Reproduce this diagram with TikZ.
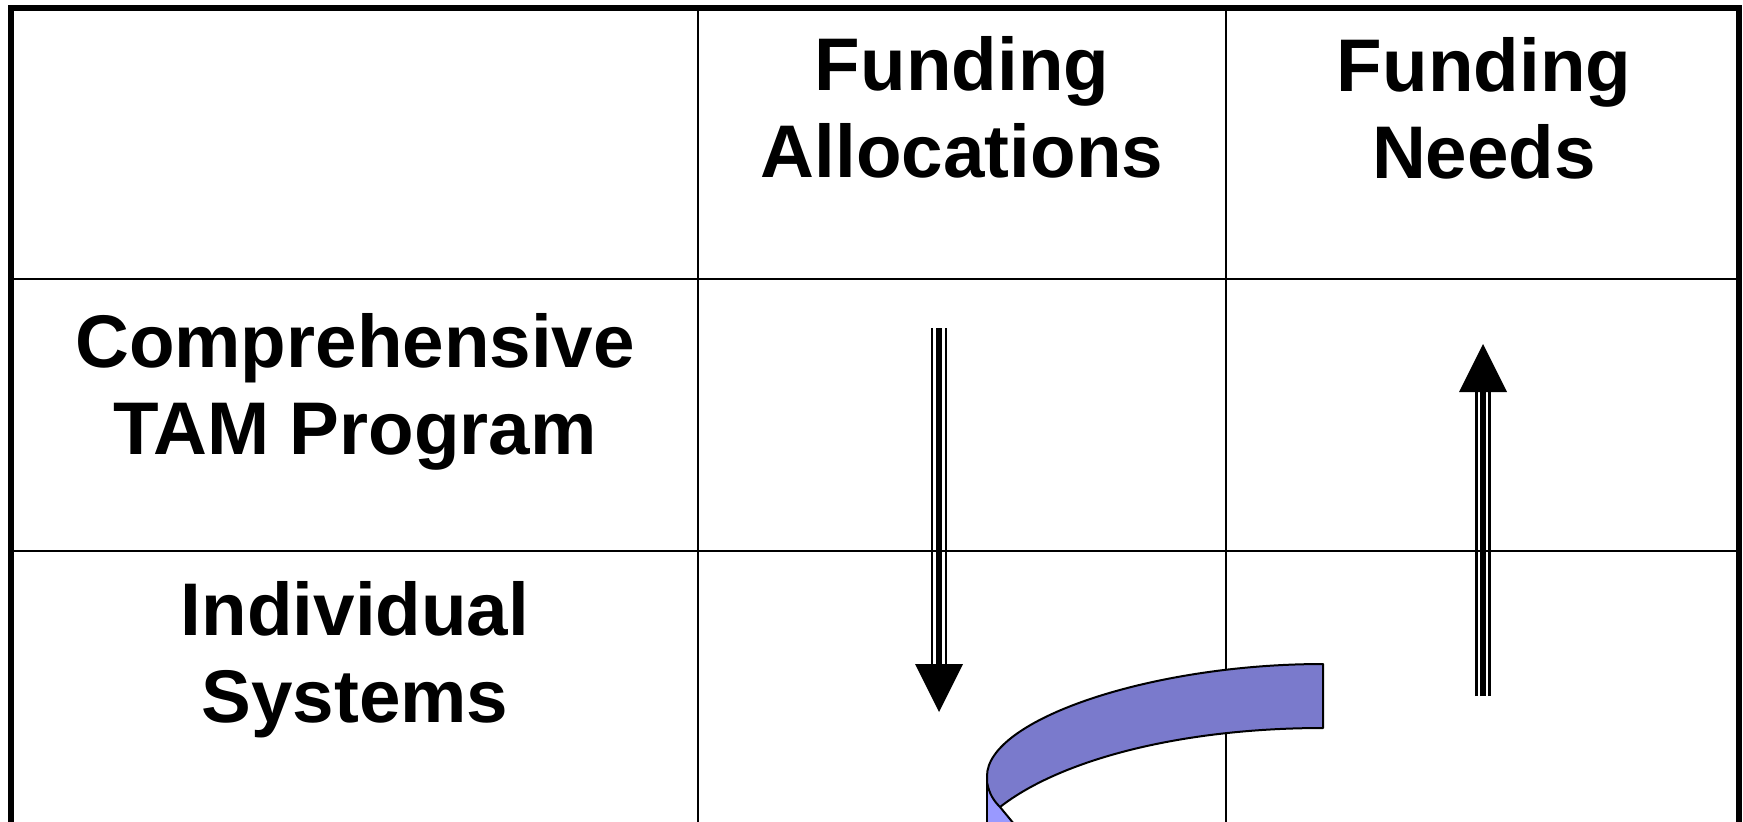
\documentclass[tikz,border=0pt]{standalone}
\usepackage{fontspec}
\setmainfont{Liberation Sans}
\definecolor{ribdark}{RGB}{122,122,204}
\definecolor{riblight}{RGB}{153,153,255}
\begin{document}
\begin{tikzpicture}[x=0.5pt,y=-0.5pt,
  lbl/.style={font=\bfseries\fontsize{37.3}{43.5}\selectfont, align=center, inner sep=0pt, anchor=base},
  gridline/.style={line width=1.25pt},
  frameline/.style={line width=3pt},
  shaftmid/.style={line width=3.4pt},
  shaftside/.style={line width=1.35pt},
  ribbon/.style={draw=black, line width=1pt, line join=round}]
\useasboundingbox (0,0) rectangle (1743,821);
\clip (0,0) rectangle (1743,821);
% grid coordinates
\coordinate (tl) at (11,8);
\coordinate (tr) at (1739,8);
\coordinate (bl) at (11,830);
\coordinate (br) at (1739,830);
\coordinate (c1t) at (698,8);
\coordinate (c1b) at (698,830);
\coordinate (c2t) at (1226,8);
\coordinate (c2b) at (1226,830);
\coordinate (r1l) at (11,279);
\coordinate (r1r) at (1739,279);
\coordinate (r2l) at (11,551);
\coordinate (r2r) at (1739,551);
% inner grid
\draw[gridline] (c1t) -- (c1b);
\draw[gridline] (c2t) -- (c2b);
\draw[gridline] (r1l) -- (r1r);
\draw[gridline] (r2l) -- (r2r);
% outer frame
\draw[frameline] (bl) -- (tl) -- (tr) -- (br);
% labels (anchor = baseline of last line)
\node[lbl] (fa) at (962,177) {Funding\\Allocations};
\node[lbl] (fn) at (1484,178) {Funding\\Needs};
\node[lbl] (ctp) at (355,454) {Comprehensive\\TAM Program};
\node[lbl] (is) at (355,722) {Individual\\Systems};
% down arrow
\coordinate (dtop) at (939,328);
\coordinate (dbase) at (939,664);
\coordinate (dtip) at (939,712);
\draw[shaftmid] (dtop) -- (dbase);
\draw[shaftside] ([xshift=-3.5pt]dtop) -- ([xshift=-3.5pt]dbase);
\draw[shaftside] ([xshift=3.5pt]dtop) -- ([xshift=3.5pt]dbase);
\fill (dtip) -- ([xshift=-12pt]dbase) -- ([xshift=12pt]dbase) -- cycle;
% up arrow
\coordinate (ubot) at (1483,696);
\coordinate (ubase) at (1483,392);
\coordinate (utip) at (1483,344);
\draw[shaftmid] (ubot) -- (ubase);
\draw[shaftside] ([xshift=-3.4pt]ubot) -- ([xshift=-3.4pt]ubase);
\draw[shaftside] ([xshift=3.4pt]ubot) -- ([xshift=3.4pt]ubase);
\fill (utip) -- ([xshift=-12pt]ubase) -- ([xshift=12pt]ubase) -- cycle;
% ribbon
\coordinate (rt) at (1323,664);
\coordinate (rb) at (1323,728);
\coordinate (lv) at (987,776);
\coordinate (lk) at (987,782);
\coordinate (lc) at (1000,807);
\coordinate (lbot) at (1019,830);
\coordinate (lvb) at (987,830);
\path[fill=riblight] (lk) .. controls (989,794) and (994,801) .. (lc) -- (lbot) -- (lvb) -- cycle;
\draw[ribbon] (lc) -- (lbot);
\draw[ribbon, fill=ribdark] (rt) .. controls (1150,664) and (987,720) .. (lv) -- (lk)
   .. controls (989,794) and (994,801) .. (lc)
   .. controls (1060,760) and (1180,728) .. (rb) -- cycle;
\draw[ribbon] (lk) -- (lvb);
\end{tikzpicture}
\end{document}
